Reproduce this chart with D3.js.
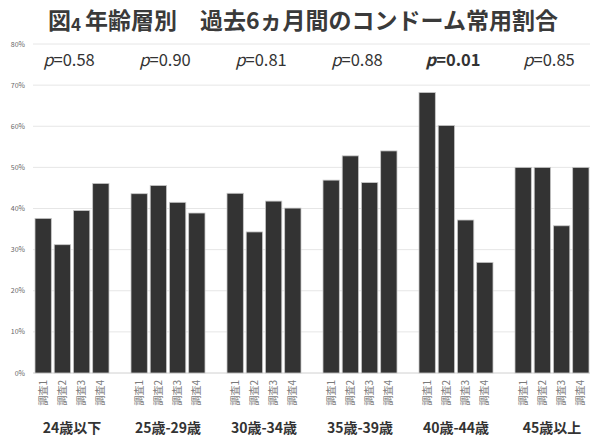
<!DOCTYPE html>
<meta charset="utf-8">
<script src="https://d3js.org/d3.v7.min.js"></script>
<style>
  body { margin: 0; background: #fff; }
  text { font-family: "Noto Sans CJK JP", "Noto Sans", sans-serif; }
</style>
<div id="chart"></div>
<script>
// data
var groups = ["24歳以下", "25歳-29歳", "30歳-34歳", "35歳-39歳", "40歳-44歳", "45歳以上"];
var surveys = ["調査1", "調査2", "調査3", "調査4"];
var survey1 = [37.6, 43.6, 43.7, 46.9, 68.2, 50.0];
var survey2 = [31.2, 45.6, 34.3, 52.8, 60.2, 50.0];
var survey3 = [39.5, 41.5, 41.8, 46.3, 37.2, 35.8];
var survey4 = [46.1, 38.9, 40.1, 54.0, 26.9, 50.0];
var pValues = ["0.58", "0.90", "0.81", "0.88", "0.01", "0.85"];
var yTicks = [0, 10, 20, 30, 40, 50, 60, 70, 80];

var series = [survey1, survey2, survey3, survey4];
var rows = groups.map(function (g, i) {
  return { group: g, p: pValues[i], values: series.map(function (s, j) { return { survey: surveys[j], v: s[i] }; }) };
});

var W = 592, H = 437;
var svg = d3.select("#chart").append("svg").attr("width", W).attr("height", H);

var y = d3.scaleLinear().domain([0, 80]).range([373, 44]);
var x0 = d3.scaleBand().domain(groups).range([24, 600]);
var x1 = d3.scaleBand().domain(surveys).range([11, 85]).paddingInner(0.15);

// title
var title = svg.append("text")
  .attr("x", 303).attr("y", 29)
  .attr("text-anchor", "middle")
  .attr("font-size", 23).attr("font-weight", "bold").attr("fill", "#3a3a3a");
title.append("tspan").text("図");
title.append("tspan").attr("font-size", 17).attr("dy", 2).text("4 ");
title.append("tspan").attr("dy", -2).text("年齢層別　過去6ヵ月間のコンドーム常用割合");

// grid + y axis
svg.append("g")
  .selectAll("line").data(yTicks).enter().append("line")
  .attr("x1", 33).attr("x2", 590)
  .attr("y1", function (d) { return y(d); }).attr("y2", function (d) { return y(d); })
  .attr("stroke", function (d) { return d === 0 ? "#d0d0d0" : "#e6e6e6"; })
  .attr("stroke-width", 1);

svg.append("g")
  .selectAll("text").data(yTicks).enter().append("text")
  .attr("x", 25).attr("y", function (d) { return y(d) + 2.5; })
  .attr("text-anchor", "end")
  .attr("font-size", 7).attr("fill", "#666")
  .text(function (d) { return d + "%"; });

// bars
var g = svg.append("g").selectAll("g").data(rows).enter().append("g")
  .attr("transform", function (d) { return "translate(" + x0(d.group) + ",0)"; });

g.selectAll("rect").data(function (d) { return d.values; }).enter().append("rect")
  .attr("x", function (d) { return x1(d.survey); })
  .attr("width", x1.bandwidth())
  .attr("y", function (d) { return y(d.v); })
  .attr("height", function (d) { return y(0) - y(d.v); })
  .attr("fill", "#333")
  .attr("stroke", "#c8c8c8").attr("stroke-width", 0.8);

// survey labels, rotated
g.selectAll("text.sv").data(function (d) { return d.values; }).enter().append("text")
  .attr("class", "sv")
  .attr("transform", function (d) {
    return "translate(" + (x1(d.survey) + x1.bandwidth() / 2 + 3.5) + ",380) rotate(-90)";
  })
  .attr("text-anchor", "end")
  .attr("font-size", 10).attr("fill", "#7a7a7a")
  .text(function (d) { return d.survey; });

// group labels
g.append("text")
  .attr("x", x0.bandwidth() / 2).attr("y", 433)
  .attr("text-anchor", "middle")
  .attr("font-size", 14).attr("font-weight", "bold").attr("fill", "#333")
  .text(function (d) { return d.group; });

// p values
var pt = g.append("text")
  .attr("x", x0.bandwidth() / 2 - 3).attr("y", 66)
  .attr("text-anchor", "middle")
  .attr("font-size", 16.5).attr("fill", "#333")
  .attr("font-weight", function (d) { return d.p === "0.01" ? "bold" : "normal"; });
pt.append("tspan").attr("font-style", "italic").text("p");
pt.append("tspan").text(function (d) { return "=" + d.p; });
</script>
